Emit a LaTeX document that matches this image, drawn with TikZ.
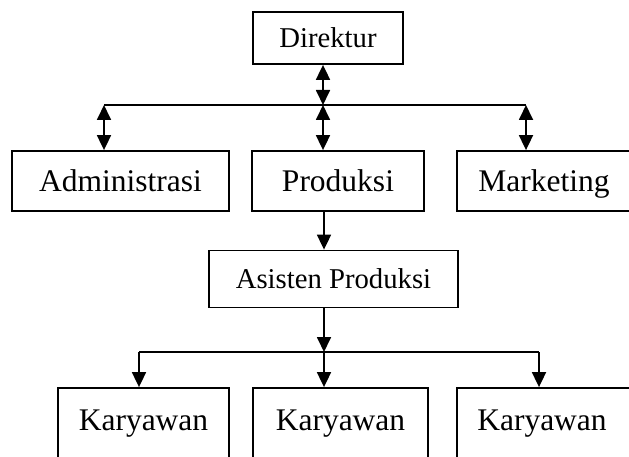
\documentclass[tikz,border=0pt]{standalone}
\usepackage{fontspec}
\setmainfont{Liberation Serif}
\usetikzlibrary{arrows.meta}
\begin{document}
\begin{tikzpicture}[x=1pt,y=-1pt,
  box/.style={draw, line width=1.8pt, inner sep=0pt, text depth=0pt},
  big/.style={font=\fontsize{31.5}{36}\selectfont, text height=20.8pt},
  small/.style={font=\fontsize{28.7}{33}\selectfont, text height=19pt},
  link/.style={line width=1.8pt},
  tip/.style={-{Triangle[width=14pt,length=15pt]}},
  both/.style={{Triangle[width=14pt,length=15pt]}-{Triangle[width=14pt,length=15pt]}}]
\useasboundingbox (0,0) rectangle (629,457);
\clip (0,0) rectangle (629,457);

\node[box,small,minimum width=150pt,minimum height=52pt] (dir) at (328,38) {Direktur};
\node[box,big,minimum width=217pt,minimum height=60pt] (adm) at (120.5,181) {Administrasi};
\node[box,big,minimum width=172pt,minimum height=60pt] (prod) at (338,181) {Produksi};
\node[box,big,minimum width=200pt,minimum height=60pt] (mkt) at (557,181) {Marketing\kern26pt};
\node[box,small,minimum width=249pt,minimum height=57pt] (asis) at (333.5,279) {Asisten Produksi};
\node[box,big,text depth=16pt,minimum width=171pt,minimum height=80pt] (k1) at (143.5,428) {Karyawan};
\node[box,big,text depth=16pt,minimum width=175pt,minimum height=80pt] (k2) at (340.5,428) {Karyawan};
\node[box,big,text depth=16pt,minimum width=200pt,minimum height=80pt] (k3) at (557,428) {Karyawan\kern30pt};

\coordinate (h1) at (323,105);
\coordinate (hl) at (104,105);
\coordinate (hr) at (526,105);
\draw[link] (hl) -- (hr);
\draw[link,both] (h1 |- dir.south) -- (h1);
\draw[link,both] (h1) -- (h1 |- prod.north);
\draw[link,both] (hl) -- (hl |- adm.north);
\draw[link,both] (hr) -- (hr |- mkt.north);

\coordinate (c2) at (324,352);
\coordinate (kl) at (139,352);
\coordinate (kr) at (539,352);
\draw[link,tip] (c2 |- prod.south) -- (c2 |- asis.north);
\draw[link,tip] (c2 |- asis.south) -- (c2);
\draw[link] (kl) -- (kr);
\draw[link,tip] (kl) -- (kl |- k1.north);
\draw[link,tip] (c2) -- (c2 |- k2.north);
\draw[link,tip] (kr) -- (kr |- k3.north);
\end{tikzpicture}
\end{document}
